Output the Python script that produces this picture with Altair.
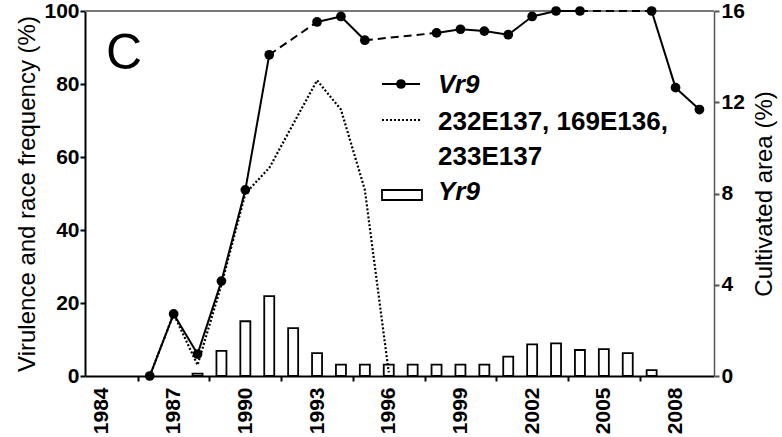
import altair as alt
import pandas as pd

# ---- data ----
years_vr9 = [1986, 1987, 1988, 1989, 1990, 1991, 1993, 1994, 1995, 1998, 1999,
             2000, 2001, 2002, 2003, 2004, 2007, 2008, 2009]
vr9 = [0, 17, 6, 26, 51, 88, 97, 98.5, 92, 94, 95, 94.5, 93.5, 98.5, 100, 100,
       100, 79, 73]

years_race = [1986, 1987, 1988, 1989, 1990, 1991, 1993, 1994, 1995, 1996]
race = [0, 17, 3, 25, 50, 57, 81, 73, 51, 1]

years_area = list(range(1988, 2008))
area = [0.1, 1.1, 2.4, 3.5, 2.1, 1.0, 0.5, 0.5, 0.5, 0.5, 0.5, 0.5, 0.5, 0.85,
        1.39, 1.43, 1.14, 1.18, 1.0, 0.26]

label_years = [1984, 1987, 1990, 1993, 1996, 1999, 2002, 2005, 2008]
left_ticks = [0, 20, 40, 60, 80, 100]
right_ticks = [0, 4, 8, 12, 16]

# ---- tables ----
df_vr9 = pd.DataFrame({"year": years_vr9, "value": vr9})
df_race = pd.DataFrame({"year": years_race, "value": race})
df_area = pd.DataFrame({"year": years_area, "area": area})

seg_rows = []
for i in range(len(years_vr9) - 1):
    kind = "solid" if years_vr9[i + 1] - years_vr9[i] == 1 else "dashed"
    for j in (i, i + 1):
        seg_rows.append({"seg": i, "kind": kind, "year": years_vr9[j], "value": vr9[j]})
df_seg = pd.DataFrame(seg_rows)

W, H = 629, 365
FONT = "Liberation Sans"

tick_values = [y + 0.5 for y in range(1984, 2009)] + label_years
xscale = alt.Scale(domain=[1983.5, 2009.4], nice=False, zero=False)
xaxis = alt.Axis(
    values=tick_values, format="d", labelAngle=270, labelPadding=6,
    labelExpr="(datum.value % 1 == 0 && datum.value % 3 == 1) ? datum.label : ''",
    tickColor={"condition": {"test": "datum.value % 1 != 0", "value": "black"}, "value": "transparent"},
    labelOverlap=False, labelFlush=False, title=None, grid=False,
    domainColor="black", domainWidth=2,
)
x_enc = alt.X("year:Q", scale=xscale, axis=xaxis)

one = alt.Data(values=[{"a": 1}])
top_border = alt.Chart(one).mark_rule(color="#777", strokeWidth=2).encode(
    x=alt.value(0), x2=alt.value(W), y=alt.value(0))

# bars on the right axis
bars = alt.Chart(df_area).mark_bar(size=10, fill="white", stroke="black", strokeWidth=1.8).encode(
    x=x_enc,
    y=alt.Y("area:Q", scale=alt.Scale(domain=[0, 16], nice=False),
            axis=alt.Axis(orient="right", values=right_ticks, title="Cultivated area (%)",
                          titleAngle=270, titleBaseline="top", labelPadding=2, titlePadding=8,
                          grid=False, domainColor="#555", domainWidth=1.5, tickColor="#555")),
)

yscale = alt.Scale(domain=[0, 100], nice=False)
yleft = alt.Y("value:Q", scale=yscale,
              axis=alt.Axis(orient="left", values=left_ticks,
                            title="Virulence and race frequency (%)", labelPadding=1,
                            titlePadding=4, grid=False, domainColor="black", domainWidth=2))

race_line = alt.Chart(df_race).mark_line(color="black", strokeWidth=2.2, strokeDash=[2, 2]).encode(
    x=x_enc, y=yleft
)
solid = alt.Chart(df_seg).transform_filter("datum.kind == 'solid'").mark_line(
    color="black", strokeWidth=2).encode(x=x_enc, y=yleft, detail="seg:N")
dashed = alt.Chart(df_seg).transform_filter("datum.kind == 'dashed'").mark_line(
    color="black", strokeWidth=2, strokeDash=[8, 5]).encode(x=x_enc, y=yleft, detail="seg:N")
points = alt.Chart(df_vr9).mark_point(filled=True, size=95, color="black", opacity=1).encode(
    x=x_enc, y=yleft)

left_layer = alt.layer(race_line, solid, dashed, points)

panel_c = alt.Chart(one).mark_text(text="C", font=FONT, fontSize=50, align="left",
                                   baseline="alphabetic", color="black").encode(
    x=alt.value(21), y=alt.value(58))

# legend
lg_line = alt.Chart(one).mark_rule(color="black", strokeWidth=2).encode(
    x=alt.value(297), x2=alt.value(335), y=alt.value(73))
lg_dot = alt.Chart(one).mark_point(filled=True, size=95, color="black", opacity=1).encode(
    x=alt.value(316), y=alt.value(73))
lg_dotted = alt.Chart(one).mark_rule(color="black", strokeWidth=2, strokeDash=[2, 2]).encode(
    x=alt.value(297), x2=alt.value(335), y=alt.value(109))
lg_rect = alt.Chart(one).mark_rect(fill="white", stroke="black", strokeWidth=1.8).encode(
    x=alt.value(297), x2=alt.value(337), y=alt.value(179), y2=alt.value(189))

def lg_text(txt, yb, italic=False):
    return alt.Chart(one).mark_text(text=txt, font=FONT, fontSize=26, fontWeight="bold",
                                    fontStyle="italic" if italic else "normal",
                                    align="left", baseline="alphabetic", color="black").encode(
        x=alt.value(353), y=alt.value(yb))

legend = alt.layer(lg_line, lg_dot, lg_dotted, lg_rect,
                   lg_text("Vr9", 82, True), lg_text("232E137, 169E136,", 119),
                   lg_text("233E137", 154), lg_text("Yr9", 189, True))

chart = alt.layer(top_border, bars, left_layer, panel_c, legend).resolve_scale(
    y="independent"
).properties(
    width=W, height=H,
    autosize=alt.AutoSizeParams(type="none"),
    padding={"left": 85, "top": 11, "right": 782 - 85 - W, "bottom": 437 - 11 - H},
).configure_view(stroke=None).configure_axis(
    labelFont=FONT, labelFontSize=21, labelFontWeight="bold", labelColor="black",
    titleFont=FONT, titleFontSize=24, titleFontWeight="normal", titleColor="black",
    tickSize=5, tickWidth=2, tickColor="black",
)

chart.save("out.html", embed_options={"renderer": "svg", "actions": False})
